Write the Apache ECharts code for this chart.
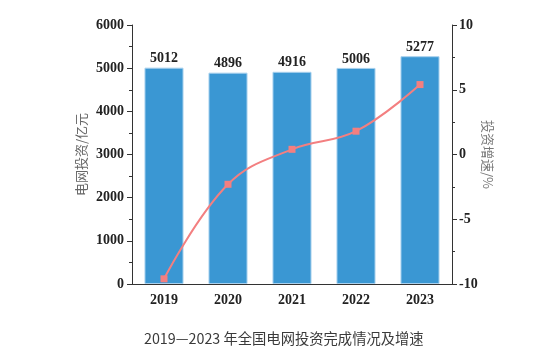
<!DOCTYPE html>
<html>
<head>
<meta charset="utf-8">
<script src="https://cdn.jsdelivr.net/npm/echarts@6/dist/echarts.min.js"></script>
<style>html,body{margin:0;padding:0;background:#fff}#c{width:554px;height:357px}</style>
</head>
<body>
<div id="c"></div>
<script>
var years = ['2019', '2020', '2021', '2022', '2023'];
var investment = [5012, 4896, 4916, 5006, 5277];
var growth = [-9.6, -2.3, 0.4, 1.8, 5.4];
var leftName = '电网投资/亿元';
var rightName = '投资增速/%';
var titleText = '2019—2023 年全国电网投资完成情况及增速';

var serif = 'Liberation Serif';
var axisColor = '#333';
var plain = function (v) { return String(v); };
var chart = echarts.init(document.getElementById('c'), null, {renderer: 'canvas'});
chart.setOption({
  animation: false,
  title: {
    text: titleText,
    left: 139,
    top: 326,
    textStyle: {fontFamily: 'Noto Sans CJK SC', fontSize: 14.3, fontWeight: 'normal', color: '#3a3a3a'}
  },
  grid: {left: 132, right: 102, top: 25, bottom: 73, containLabel: false},
  xAxis: [{
    type: 'category',
    data: years,
    axisLine: {lineStyle: {color: axisColor, width: 1}},
    axisTick: {alignWithLabel: true, length: 5, lineStyle: {color: axisColor}},
    axisLabel: {fontFamily: serif, fontWeight: 'bold', fontSize: 14, color: '#222', margin: 9}
  }, {
    type: 'category',
    data: years,
    position: 'bottom',
    axisLine: {show: false},
    axisTick: {length: 3, lineStyle: {color: axisColor}},
    axisLabel: {show: false}
  }],
  yAxis: [{
    type: 'value',
    min: 0, max: 6000, interval: 1000,
    name: leftName,
    nameLocation: 'middle',
    nameRotate: 90,
    nameGap: 44,
    nameMoveOverlap: false,
    nameTextStyle: {fontFamily: 'Noto Sans CJK SC', fontSize: 13, color: '#666'},
    axisLine: {show: true, lineStyle: {color: axisColor}},
    axisTick: {show: true, length: 5, lineStyle: {color: axisColor}},
    minorTick: {show: true, splitNumber: 2, length: 3, lineStyle: {color: axisColor}},
    splitLine: {show: false},
    axisLabel: {fontFamily: serif, fontWeight: 'bold', fontSize: 14, color: '#222', margin: 8, formatter: plain}
  }, {
    type: 'value',
    min: -10, max: 10, interval: 5,
    name: rightName,
    nameLocation: 'middle',
    nameRotate: -90,
    nameGap: 29,
    nameMoveOverlap: false,
    nameTextStyle: {fontFamily: 'Noto Sans CJK SC', fontSize: 13, color: '#777'},
    axisLine: {show: true, lineStyle: {color: axisColor}},
    axisTick: {show: true, length: 5, lineStyle: {color: axisColor}},
    minorTick: {show: true, splitNumber: 2, length: 3, lineStyle: {color: axisColor}},
    splitLine: {show: false},
    axisLabel: {fontFamily: serif, fontWeight: 'bold', fontSize: 14, color: '#222', margin: 7, formatter: plain}
  }],
  series: [{
    type: 'bar',
    data: investment,
    barWidth: '61%',
    itemStyle: {color: '#3a97d3', borderColor: '#a9d1ee', borderWidth: 1},
    label: {show: true, position: 'top', distance: 2, fontFamily: serif, fontWeight: 'bold', fontSize: 14, color: '#222', formatter: function (p) { return String(p.value); }}
  }, {
    type: 'line',
    yAxisIndex: 1,
    data: growth,
    smooth: 0.4,
    symbol: 'rect',
    symbolSize: 7,
    lineStyle: {color: '#f37f80', width: 2},
    itemStyle: {color: '#f37f80'},
    z: 5
  }]
});
</script>
</body>
</html>
